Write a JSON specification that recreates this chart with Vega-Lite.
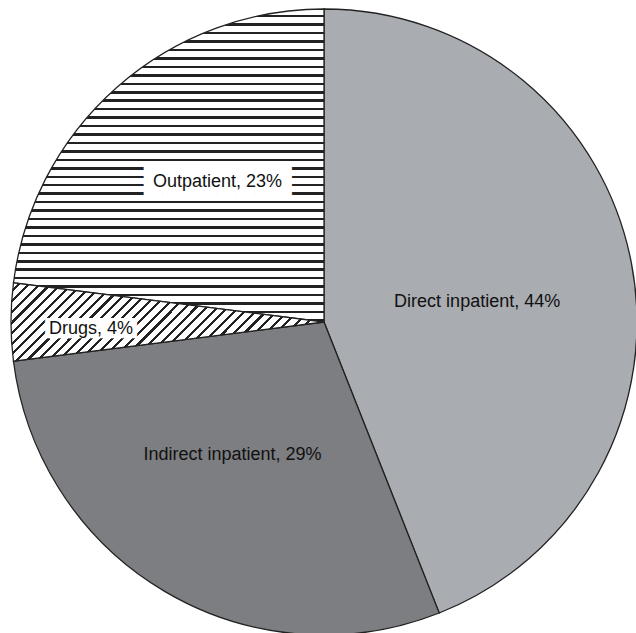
{
  "$schema": "https://vega.github.io/schema/vega-lite/v6.json",
  "autosize": {"type": "fit", "contains": "padding"},
  "width": 636,
  "height": 633,
  "padding": {"left": 12, "top": 11, "right": 0, "bottom": 0},
  "background": "white",
  "view": {"stroke": null},
  "data": {
    "values": [
      {"cat": "Direct inpatient", "value": 44, "label": "Direct inpatient, 44%"},
      {"cat": "Indirect inpatient", "value": 29, "label": "Indirect inpatient, 29%"},
      {"cat": "Drugs", "value": 4, "label": "Drugs, 4%"},
      {"cat": "Outpatient", "value": 23, "label": "Outpatient, 23%"}
    ]
  },
  "transform": [{"stack": "value", "groupby": [], "as": ["v0", "v1"]}],
  "layer": [
    {
      "encoding": {
        "theta": {"field": "v0", "type": "quantitative", "scale": {"domain": [0, 100]}},
        "theta2": {"field": "v1"}
      },
      "layer": [
        {
          "transform": [{"filter": "datum.cat === 'Direct inpatient'"}],
          "mark": {"type": "arc", "radius": 313, "fill": "#a9acb0", "stroke": "#222", "strokeWidth": 1.3}
        },
        {
          "transform": [{"filter": "datum.cat === 'Indirect inpatient'"}],
          "mark": {"type": "arc", "radius": 313, "fill": "#7c7e81", "stroke": "#222", "strokeWidth": 1.3}
        },
        {
          "transform": [{"filter": "datum.cat === 'Outpatient'"}],
          "mark": {"type": "arc", "radius": 313, "stroke": "#222", "strokeWidth": 1.3,
            "fill": {"gradient": "linear", "x1": 0, "y1": 0, "x2": 0, "y2": 1, "stops": [
{"offset":0,"color":"#fff"},{"offset":0.019,"color":"#fff"},{"offset":0.019,"color":"#222"},{"offset":0.027,"color":"#222"},
{"offset":0.027,"color":"#fff"},{"offset":0.046,"color":"#fff"},{"offset":0.046,"color":"#222"},{"offset":0.054,"color":"#222"},
{"offset":0.054,"color":"#fff"},{"offset":0.073,"color":"#fff"},{"offset":0.073,"color":"#222"},{"offset":0.081,"color":"#222"},
{"offset":0.081,"color":"#fff"},{"offset":0.1,"color":"#fff"},{"offset":0.1,"color":"#222"},{"offset":0.108,"color":"#222"},
{"offset":0.108,"color":"#fff"},{"offset":0.127,"color":"#fff"},{"offset":0.127,"color":"#222"},{"offset":0.135,"color":"#222"},
{"offset":0.135,"color":"#fff"},{"offset":0.154,"color":"#fff"},{"offset":0.154,"color":"#222"},{"offset":0.162,"color":"#222"},
{"offset":0.162,"color":"#fff"},{"offset":0.181,"color":"#fff"},{"offset":0.181,"color":"#222"},{"offset":0.189,"color":"#222"},
{"offset":0.189,"color":"#fff"},{"offset":0.208,"color":"#fff"},{"offset":0.208,"color":"#222"},{"offset":0.216,"color":"#222"},
{"offset":0.216,"color":"#fff"},{"offset":0.235,"color":"#fff"},{"offset":0.235,"color":"#222"},{"offset":0.243,"color":"#222"},
{"offset":0.243,"color":"#fff"},{"offset":0.262,"color":"#fff"},{"offset":0.262,"color":"#222"},{"offset":0.27,"color":"#222"},
{"offset":0.27,"color":"#fff"},{"offset":0.289,"color":"#fff"},{"offset":0.289,"color":"#222"},{"offset":0.297,"color":"#222"},
{"offset":0.297,"color":"#fff"},{"offset":0.316,"color":"#fff"},{"offset":0.316,"color":"#222"},{"offset":0.324,"color":"#222"},
{"offset":0.324,"color":"#fff"},{"offset":0.343,"color":"#fff"},{"offset":0.343,"color":"#222"},{"offset":0.351,"color":"#222"},
{"offset":0.351,"color":"#fff"},{"offset":0.37,"color":"#fff"},{"offset":0.37,"color":"#222"},{"offset":0.378,"color":"#222"},
{"offset":0.378,"color":"#fff"},{"offset":0.397,"color":"#fff"},{"offset":0.397,"color":"#222"},{"offset":0.405,"color":"#222"},
{"offset":0.405,"color":"#fff"},{"offset":0.424,"color":"#fff"},{"offset":0.424,"color":"#222"},{"offset":0.432,"color":"#222"},
{"offset":0.432,"color":"#fff"},{"offset":0.451,"color":"#fff"},{"offset":0.451,"color":"#222"},{"offset":0.459,"color":"#222"},
{"offset":0.459,"color":"#fff"},{"offset":0.478,"color":"#fff"},{"offset":0.478,"color":"#222"},{"offset":0.486,"color":"#222"},
{"offset":0.486,"color":"#fff"},{"offset":0.505,"color":"#fff"},{"offset":0.505,"color":"#222"},{"offset":0.513,"color":"#222"},
{"offset":0.513,"color":"#fff"},{"offset":0.532,"color":"#fff"},{"offset":0.532,"color":"#222"},{"offset":0.54,"color":"#222"},
{"offset":0.54,"color":"#fff"},{"offset":0.559,"color":"#fff"},{"offset":0.559,"color":"#222"},{"offset":0.567,"color":"#222"},
{"offset":0.567,"color":"#fff"},{"offset":0.586,"color":"#fff"},{"offset":0.586,"color":"#222"},{"offset":0.594,"color":"#222"},
{"offset":0.594,"color":"#fff"},{"offset":0.613,"color":"#fff"},{"offset":0.613,"color":"#222"},{"offset":0.621,"color":"#222"},
{"offset":0.621,"color":"#fff"},{"offset":0.64,"color":"#fff"},{"offset":0.64,"color":"#222"},{"offset":0.648,"color":"#222"},
{"offset":0.648,"color":"#fff"},{"offset":0.667,"color":"#fff"},{"offset":0.667,"color":"#222"},{"offset":0.675,"color":"#222"},
{"offset":0.675,"color":"#fff"},{"offset":0.694,"color":"#fff"},{"offset":0.694,"color":"#222"},{"offset":0.702,"color":"#222"},
{"offset":0.702,"color":"#fff"},{"offset":0.721,"color":"#fff"},{"offset":0.721,"color":"#222"},{"offset":0.729,"color":"#222"},
{"offset":0.729,"color":"#fff"},{"offset":0.748,"color":"#fff"},{"offset":0.748,"color":"#222"},{"offset":0.756,"color":"#222"},
{"offset":0.756,"color":"#fff"},{"offset":0.775,"color":"#fff"},{"offset":0.775,"color":"#222"},{"offset":0.783,"color":"#222"},
{"offset":0.783,"color":"#fff"},{"offset":0.802,"color":"#fff"},{"offset":0.802,"color":"#222"},{"offset":0.81,"color":"#222"},
{"offset":0.81,"color":"#fff"},{"offset":0.829,"color":"#fff"},{"offset":0.829,"color":"#222"},{"offset":0.837,"color":"#222"},
{"offset":0.837,"color":"#fff"},{"offset":0.856,"color":"#fff"},{"offset":0.856,"color":"#222"},{"offset":0.864,"color":"#222"},
{"offset":0.864,"color":"#fff"},{"offset":0.883,"color":"#fff"},{"offset":0.883,"color":"#222"},{"offset":0.891,"color":"#222"},
{"offset":0.891,"color":"#fff"},{"offset":0.91,"color":"#fff"},{"offset":0.91,"color":"#222"},{"offset":0.918,"color":"#222"},
{"offset":0.918,"color":"#fff"},{"offset":0.937,"color":"#fff"},{"offset":0.937,"color":"#222"},{"offset":0.945,"color":"#222"},
{"offset":0.945,"color":"#fff"},{"offset":0.964,"color":"#fff"},{"offset":0.964,"color":"#222"},{"offset":0.972,"color":"#222"},
{"offset":0.972,"color":"#fff"},{"offset":0.991,"color":"#fff"},{"offset":0.991,"color":"#222"},{"offset":0.999,"color":"#222"},
{"offset":0.999,"color":"#fff"},{"offset":1,"color":"#fff"}
            ]}}
        },
        {
          "transform": [{"filter": "datum.cat === 'Drugs'"}],
          "mark": {"type": "arc", "radius": 313, "stroke": "#222", "strokeWidth": 1.3,
            "fill": {"gradient": "linear", "x1": 0, "y1": 0, "x2": 1.1765, "y2": 0.2941, "stops": [
{"offset":0,"color":"#fff"},{"offset":0.019,"color":"#fff"},{"offset":0.019,"color":"#222"},{"offset":0.027,"color":"#222"},
{"offset":0.027,"color":"#fff"},{"offset":0.046,"color":"#fff"},{"offset":0.046,"color":"#222"},{"offset":0.054,"color":"#222"},
{"offset":0.054,"color":"#fff"},{"offset":0.073,"color":"#fff"},{"offset":0.073,"color":"#222"},{"offset":0.081,"color":"#222"},
{"offset":0.081,"color":"#fff"},{"offset":0.1,"color":"#fff"},{"offset":0.1,"color":"#222"},{"offset":0.108,"color":"#222"},
{"offset":0.108,"color":"#fff"},{"offset":0.127,"color":"#fff"},{"offset":0.127,"color":"#222"},{"offset":0.135,"color":"#222"},
{"offset":0.135,"color":"#fff"},{"offset":0.154,"color":"#fff"},{"offset":0.154,"color":"#222"},{"offset":0.162,"color":"#222"},
{"offset":0.162,"color":"#fff"},{"offset":0.181,"color":"#fff"},{"offset":0.181,"color":"#222"},{"offset":0.189,"color":"#222"},
{"offset":0.189,"color":"#fff"},{"offset":0.208,"color":"#fff"},{"offset":0.208,"color":"#222"},{"offset":0.216,"color":"#222"},
{"offset":0.216,"color":"#fff"},{"offset":0.235,"color":"#fff"},{"offset":0.235,"color":"#222"},{"offset":0.243,"color":"#222"},
{"offset":0.243,"color":"#fff"},{"offset":0.262,"color":"#fff"},{"offset":0.262,"color":"#222"},{"offset":0.27,"color":"#222"},
{"offset":0.27,"color":"#fff"},{"offset":0.289,"color":"#fff"},{"offset":0.289,"color":"#222"},{"offset":0.297,"color":"#222"},
{"offset":0.297,"color":"#fff"},{"offset":0.316,"color":"#fff"},{"offset":0.316,"color":"#222"},{"offset":0.324,"color":"#222"},
{"offset":0.324,"color":"#fff"},{"offset":0.343,"color":"#fff"},{"offset":0.343,"color":"#222"},{"offset":0.351,"color":"#222"},
{"offset":0.351,"color":"#fff"},{"offset":0.37,"color":"#fff"},{"offset":0.37,"color":"#222"},{"offset":0.378,"color":"#222"},
{"offset":0.378,"color":"#fff"},{"offset":0.397,"color":"#fff"},{"offset":0.397,"color":"#222"},{"offset":0.405,"color":"#222"},
{"offset":0.405,"color":"#fff"},{"offset":0.424,"color":"#fff"},{"offset":0.424,"color":"#222"},{"offset":0.432,"color":"#222"},
{"offset":0.432,"color":"#fff"},{"offset":0.451,"color":"#fff"},{"offset":0.451,"color":"#222"},{"offset":0.459,"color":"#222"},
{"offset":0.459,"color":"#fff"},{"offset":0.478,"color":"#fff"},{"offset":0.478,"color":"#222"},{"offset":0.486,"color":"#222"},
{"offset":0.486,"color":"#fff"},{"offset":0.505,"color":"#fff"},{"offset":0.505,"color":"#222"},{"offset":0.513,"color":"#222"},
{"offset":0.513,"color":"#fff"},{"offset":0.532,"color":"#fff"},{"offset":0.532,"color":"#222"},{"offset":0.54,"color":"#222"},
{"offset":0.54,"color":"#fff"},{"offset":0.559,"color":"#fff"},{"offset":0.559,"color":"#222"},{"offset":0.567,"color":"#222"},
{"offset":0.567,"color":"#fff"},{"offset":0.586,"color":"#fff"},{"offset":0.586,"color":"#222"},{"offset":0.594,"color":"#222"},
{"offset":0.594,"color":"#fff"},{"offset":0.613,"color":"#fff"},{"offset":0.613,"color":"#222"},{"offset":0.621,"color":"#222"},
{"offset":0.621,"color":"#fff"},{"offset":0.64,"color":"#fff"},{"offset":0.64,"color":"#222"},{"offset":0.648,"color":"#222"},
{"offset":0.648,"color":"#fff"},{"offset":0.667,"color":"#fff"},{"offset":0.667,"color":"#222"},{"offset":0.675,"color":"#222"},
{"offset":0.675,"color":"#fff"},{"offset":0.694,"color":"#fff"},{"offset":0.694,"color":"#222"},{"offset":0.702,"color":"#222"},
{"offset":0.702,"color":"#fff"},{"offset":0.721,"color":"#fff"},{"offset":0.721,"color":"#222"},{"offset":0.729,"color":"#222"},
{"offset":0.729,"color":"#fff"},{"offset":0.748,"color":"#fff"},{"offset":0.748,"color":"#222"},{"offset":0.756,"color":"#222"},
{"offset":0.756,"color":"#fff"},{"offset":0.775,"color":"#fff"},{"offset":0.775,"color":"#222"},{"offset":0.783,"color":"#222"},
{"offset":0.783,"color":"#fff"},{"offset":0.802,"color":"#fff"},{"offset":0.802,"color":"#222"},{"offset":0.81,"color":"#222"},
{"offset":0.81,"color":"#fff"},{"offset":0.829,"color":"#fff"},{"offset":0.829,"color":"#222"},{"offset":0.837,"color":"#222"},
{"offset":0.837,"color":"#fff"},{"offset":0.856,"color":"#fff"},{"offset":0.856,"color":"#222"},{"offset":0.864,"color":"#222"},
{"offset":0.864,"color":"#fff"},{"offset":0.883,"color":"#fff"},{"offset":0.883,"color":"#222"},{"offset":0.891,"color":"#222"},
{"offset":0.891,"color":"#fff"},{"offset":0.91,"color":"#fff"},{"offset":0.91,"color":"#222"},{"offset":0.918,"color":"#222"},
{"offset":0.918,"color":"#fff"},{"offset":0.937,"color":"#fff"},{"offset":0.937,"color":"#222"},{"offset":0.945,"color":"#222"},
{"offset":0.945,"color":"#fff"},{"offset":0.964,"color":"#fff"},{"offset":0.964,"color":"#222"},{"offset":0.972,"color":"#222"},
{"offset":0.972,"color":"#fff"},{"offset":0.991,"color":"#fff"},{"offset":0.991,"color":"#222"},{"offset":0.999,"color":"#222"},
{"offset":0.999,"color":"#fff"},{"offset":1,"color":"#fff"}
            ]}}
        }
      ]
    },
    {
      "encoding": {
        "theta": {"field": "value", "type": "quantitative", "stack": true, "scale": {"domain": [0, 100]}},
        "order": {"field": "v0", "type": "quantitative"},
        "detail": {"field": "cat"}
      },
      "layer": [
        {
          "mark": {"type": "text", "radius": 160, "dx": -4, "dy": 10, "font": "Liberation Sans", "fontSize": 18, "color": "#111", "baseline": "middle", "align": "center"},
          "encoding": {"text": {"condition": {"test": "datum.cat === 'Direct inpatient'", "field": "label"}, "value": ""}}
        },
        {
          "mark": {"type": "text", "radius": 160, "dx": -10, "dy": -5, "font": "Liberation Sans", "fontSize": 18, "color": "#111", "baseline": "middle", "align": "center"},
          "encoding": {"text": {"condition": {"test": "datum.cat === 'Indirect inpatient'", "field": "label"}, "value": ""}}
        },
        {
          "mark": {"type": "text", "radius": 170, "dx": 6, "dy": -12, "font": "DejaVu Sans", "fontSize": 24, "color": "white", "baseline": "middle", "align": "center"},
          "encoding": {"text": {"condition": {"test": "datum.cat === 'Outpatient'", "value": "████████"}, "value": ""}}
        },
        {
          "mark": {"type": "text", "radius": 170, "dx": 6, "dy": -12, "font": "Liberation Sans", "fontSize": 18, "color": "#111", "baseline": "middle", "align": "center"},
          "encoding": {"text": {"condition": {"test": "datum.cat === 'Outpatient'", "field": "label"}, "value": ""}}
        },
        {
          "mark": {"type": "text", "radius": 233, "dx": 0, "dy": 7, "font": "DejaVu Sans", "fontSize": 17, "color": "white", "baseline": "middle", "align": "center"},
          "encoding": {"text": {"condition": {"test": "datum.cat === 'Drugs'", "value": "███████"}, "value": ""}}
        },
        {
          "mark": {"type": "text", "radius": 233, "dx": 0, "dy": 7, "font": "Liberation Sans", "fontSize": 18, "color": "#111", "baseline": "middle", "align": "center"},
          "encoding": {"text": {"condition": {"test": "datum.cat === 'Drugs'", "field": "label"}, "value": ""}}
        }
      ]
    }
  ]
}
